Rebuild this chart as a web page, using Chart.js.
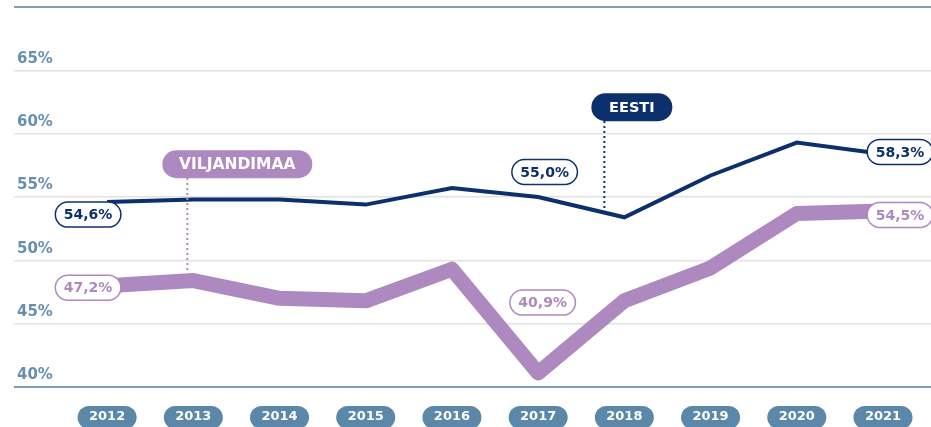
<!DOCTYPE html>
<html><head><meta charset="utf-8">
<style>html,body{margin:0;padding:0;background:#fff;overflow:hidden}#wrap{width:931px;height:427px;position:relative}</style>
<script src="https://cdn.jsdelivr.net/npm/chart.js@4/dist/chart.umd.min.js"></script>
</head><body><div id="wrap"><canvas id="c"></canvas></div>
<script>
const years = [2012, 2013, 2014, 2015, 2016, 2017, 2018, 2019, 2020, 2021];
const eestiValues = [54.6, 54.8, 54.8, 54.4, 55.7, 55.0, 53.4, 56.7, 59.3, 58.4];
const viljandimaaValues = [48.0, 48.4, 47.0, 46.8, 49.3, 41.1, 46.8, 49.4, 53.7, 53.9];
const yTickValues = [40, 45, 50, 55, 60, 65, 70];
const seriesNames = ['EESTI', 'VILJANDIMAA'];
const eestiLabelYears = [2012, 2017, 2021];
const eestiLabelTexts = ['54,6%', '55,0%', '58,3%'];
const viljandimaaLabelYears = [2012, 2017, 2021];
const viljandimaaLabelTexts = ['47,2%', '40,9%', '54,5%'];

const NAVY = '#0c306c', PURPLE = '#ad89bf', STEEL = '#5b87a9', AXIS = '#7f9eb8', GRID = '#e2e2e2', YLAB = '#6690b0';
const FONT = '"DejaVu Sans", sans-serif';

function pill(ctx, x, y, w, h) {
  const r = h / 2;
  ctx.beginPath();
  ctx.moveTo(x + r, y);
  ctx.lineTo(x + w - r, y);
  ctx.arc(x + w - r, y + r, r, -Math.PI / 2, Math.PI / 2);
  ctx.lineTo(x + r, y + h);
  ctx.arc(x + r, y + r, r, Math.PI / 2, Math.PI * 1.5);
  ctx.closePath();
}

function valueLabel(ctx, cx, cy, text, color) {
  ctx.font = 'bold 14px ' + FONT;
  const w = ctx.measureText(text).width + 17, h = 25;
  pill(ctx, cx - w / 2, cy - h / 2, w, h);
  ctx.fillStyle = '#fff';
  ctx.fill();
  ctx.lineWidth = 1.5;
  ctx.strokeStyle = color;
  ctx.stroke();
  ctx.fillStyle = color;
  ctx.textAlign = 'center';
  ctx.textBaseline = 'middle';
  ctx.fillText(text, cx, cy + 1);
}

function badge(ctx, left, top, w, h, text, color, size) {
  pill(ctx, left, top, w, h);
  ctx.fillStyle = color;
  ctx.fill();
  ctx.font = 'bold ' + size + 'px ' + FONT;
  ctx.fillStyle = '#fff';
  ctx.textAlign = 'center';
  ctx.textBaseline = 'middle';
  ctx.fillText(text, left + w / 2, top + h / 2 + 1);
}

function dotted(ctx, x, y1, y2, color) {
  ctx.save();
  ctx.setLineDash([2, 3]);
  ctx.lineWidth = 2;
  ctx.strokeStyle = color;
  ctx.beginPath();
  ctx.moveTo(x, y1);
  ctx.lineTo(x, y2);
  ctx.stroke();
  ctx.restore();
}

const deco = {
  id: 'deco',
  beforeDraw(chart) {
    const { ctx, scales: { x } } = chart;
    ctx.save();
    x.ticks.forEach(t => {
      const px = x.getPixelForValue(t.value);
      pill(ctx, px - 29.5, chart.chartArea.bottom + 19, 59, 23);
      ctx.fillStyle = STEEL;
      ctx.fill();
    });
    ctx.restore();
  },
  afterDatasetsDraw(chart) {
    const { ctx, scales: { x, y } } = chart;
    ctx.save();
    const vx = x.getPixelForValue(2013) - 6;
    dotted(ctx, vx, y.getPixelForValue(56.5), y.getPixelForValue(49.1), '#b38ab8');
    badge(ctx, vx - 25, y.getPixelForValue(58.7), 150, 28, seriesNames[1], PURPLE, 15.5);
    const ex = x.getPixelForValue(2018) - 20;
    dotted(ctx, ex, y.getPixelForValue(61.0), y.getPixelForValue(54.0), NAVY);
    badge(ctx, ex - 13, y.getPixelForValue(63.2), 81, 28, seriesNames[0], NAVY, 14.5);
    const eOff = { 2012: [-19, 12.5], 2017: [6.5, -25], 2021: [17, -2] };
    const vOff = { 2012: [-19, 2], 2017: [4.5, -70.5], 2021: [17, 4] };
    eestiLabelYears.forEach((yr, i) => {
      const v = eestiValues[years.indexOf(yr)];
      valueLabel(ctx, x.getPixelForValue(yr) + eOff[yr][0], y.getPixelForValue(v) + eOff[yr][1], eestiLabelTexts[i], NAVY);
    });
    viljandimaaLabelYears.forEach((yr, i) => {
      const v = viljandimaaValues[years.indexOf(yr)];
      valueLabel(ctx, x.getPixelForValue(yr) + vOff[yr][0], y.getPixelForValue(v) + vOff[yr][1], viljandimaaLabelTexts[i], PURPLE);
    });
    ctx.restore();
  }
};

new Chart(document.getElementById('c'), {
  type: 'line',
  data: {
    datasets: [
      { label: seriesNames[1], data: years.map((yr, i) => ({ x: yr, y: viljandimaaValues[i] })),
        borderColor: PURPLE, borderWidth: 15, borderJoinStyle: 'round', borderCapStyle: 'butt', pointRadius: 0, tension: 0 },
      { label: seriesNames[0], data: years.map((yr, i) => ({ x: yr, y: eestiValues[i] })),
        borderColor: NAVY, borderWidth: 4, borderJoinStyle: 'miter', pointRadius: 0, tension: 0 }
    ]
  },
  options: {
    responsive: true,
    maintainAspectRatio: false,
    animation: false,
    layout: { padding: { left: 14, top: 7, right: 0, bottom: 0 } },
    plugins: { legend: { display: false }, tooltip: { enabled: false } },
    scales: {
      x: {
        type: 'linear',
        min: 2010.92, max: 2021.557,
        afterBuildTicks: ax => { ax.ticks = years.map(v => ({ value: v })); },
        afterFit: s => { s.height = 40; s.paddingLeft = 0; s.paddingRight = 0; },
        grid: { display: false, drawTicks: false },
        border: { display: false },
        ticks: { color: '#fff', font: { family: FONT, size: 13, weight: 'bold' }, padding: 22, maxRotation: 0, autoSkip: false,
          callback: v => String(v) }
      },
      y: {
        min: 40, max: 70,
        afterBuildTicks: ax => { ax.ticks = yTickValues.map(v => ({ value: v })); },
        afterFit: s => { s.width = 0; s.paddingTop = 0; s.paddingBottom = 0; },
        border: { display: false },
        grid: {
          drawTicks: false,
          color: c => (c.tick && (c.tick.value === 40 || c.tick.value === 70)) ? AXIS : GRID,
          lineWidth: c => (c.tick && (c.tick.value === 40 || c.tick.value === 70)) ? 2 : 1.5
        },
        ticks: {
          mirror: true, padding: 3, labelOffset: -11.5,
          color: YLAB, font: { family: FONT, size: 15, weight: 'bold' },
          callback: v => v === 70 ? '' : v + '%'
        }
      }
    }
  },
  plugins: [deco]
});
</script>
</body></html>
